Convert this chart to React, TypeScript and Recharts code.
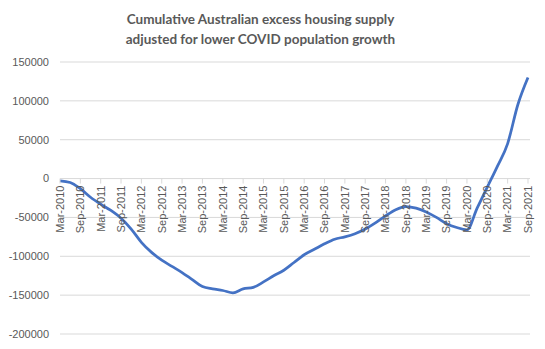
import React from 'react'
import { LineChart, Line, XAxis, YAxis, CartesianGrid } from 'recharts'

const quarters = [
  'Mar-2010', 'Jun-2010', 'Sep-2010', 'Dec-2010',
  'Mar-2011', 'Jun-2011', 'Sep-2011', 'Dec-2011',
  'Mar-2012', 'Jun-2012', 'Sep-2012', 'Dec-2012',
  'Mar-2013', 'Jun-2013', 'Sep-2013', 'Dec-2013',
  'Mar-2014', 'Jun-2014', 'Sep-2014', 'Dec-2014',
  'Mar-2015', 'Jun-2015', 'Sep-2015', 'Dec-2015',
  'Mar-2016', 'Jun-2016', 'Sep-2016', 'Dec-2016',
  'Mar-2017', 'Jun-2017', 'Sep-2017', 'Dec-2017',
  'Mar-2018', 'Jun-2018', 'Sep-2018', 'Dec-2018',
  'Mar-2019', 'Jun-2019', 'Sep-2019', 'Dec-2019',
  'Mar-2020', 'Jun-2020', 'Sep-2020', 'Dec-2020',
  'Mar-2021', 'Jun-2021', 'Sep-2021',
]

const excessSupply = [
  -3000, -5000, -13000, -24000,
  -33000, -41000, -51000, -65000,
  -82000, -95000, -105000, -113000,
  -121000, -130000, -139000, -142000,
  -144000, -147000, -142000, -140000,
  -133000, -125000, -118000, -108000,
  -98000, -91000, -84000, -78000,
  -75000, -71000, -65000, -57000,
  -48000, -40000, -36000, -38000,
  -43000, -50000, -58000, -63000,
  -66000, -38000, -11000, 16000,
  45000, 95000, 130000,
]

const yTicks = [-200000, -150000, -100000, -50000, 0, 50000, 100000, 150000]

const WIDTH = 545
const HEIGHT = 349
const X_AXIS_HEIGHT = 1
const MARGIN = { top: 62, right: 15, bottom: 14, left: 0 }
const Y_MIN = -200000
const Y_MAX = 150000
const plotHeight = HEIGHT - MARGIN.top - MARGIN.bottom - X_AXIS_HEIGHT
// Excel puts the category labels on the zero line, not at the bottom
const zeroY = MARGIN.top + (plotHeight * Y_MAX) / (Y_MAX - Y_MIN)

const chartData = quarters.map((q, i) => ({ quarter: q, value: excessSupply[i] }))

const ZeroLineTick = ({ x, payload }: any) => {
  const ty = zeroY + 7
  return (
    <g>
      <line x1={x} x2={x} y1={zeroY} y2={zeroY + 5} stroke="#d9d9d9" />
      <text
        x={x}
        y={ty}
        transform={`rotate(-90 ${x} ${ty})`}
        textAnchor="end"
        dy="0.35em"
        fontSize={11}
        fill="#595959"
        fontFamily="'Liberation Sans', Arial, sans-serif"
      >
        {payload.value}
      </text>
    </g>
  )
}

export default function App() {
  return (
    <div style={{ position: 'absolute', left: 0, top: 0, width: WIDTH, height: HEIGHT, background: '#fff' }}>
      <div
        style={{
          position: 'absolute',
          left: 0,
          top: 9,
          width: 521,
          textAlign: 'center',
          fontFamily: 'Lato, sans-serif',
          fontWeight: 700,
          fontSize: 13.5,
          lineHeight: '20px',
          color: '#595959',
        }}
      >
        Cumulative Australian excess housing supply
        <br />
        adjusted for lower COVID population growth
      </div>
      <LineChart width={WIDTH} height={HEIGHT} data={chartData} margin={MARGIN}>
        <CartesianGrid vertical={false} stroke="#d9d9d9" />
        <XAxis
          dataKey="quarter"
          interval={1}
          height={X_AXIS_HEIGHT}
          axisLine={false}
          tickLine={false}
          tick={<ZeroLineTick />}
          padding={{ left: 0, right: 2 }}
        />
        <YAxis
          width={60}
          domain={[Y_MIN, Y_MAX]}
          ticks={yTicks}
          axisLine={false}
          tickLine={false}
          tickSize={6}
          tickMargin={5}
          tickFormatter={(v: number) => String(v)}
          tick={{ fontSize: 11, fill: '#595959', fontFamily: "'Liberation Sans', Arial, sans-serif" }}
        />
        <Line
          type="monotone"
          dataKey="value"
          stroke="#4472C4"
          strokeWidth={2.75}
          dot={false}
          isAnimationActive={false}
        />
      </LineChart>
    </div>
  )
}
